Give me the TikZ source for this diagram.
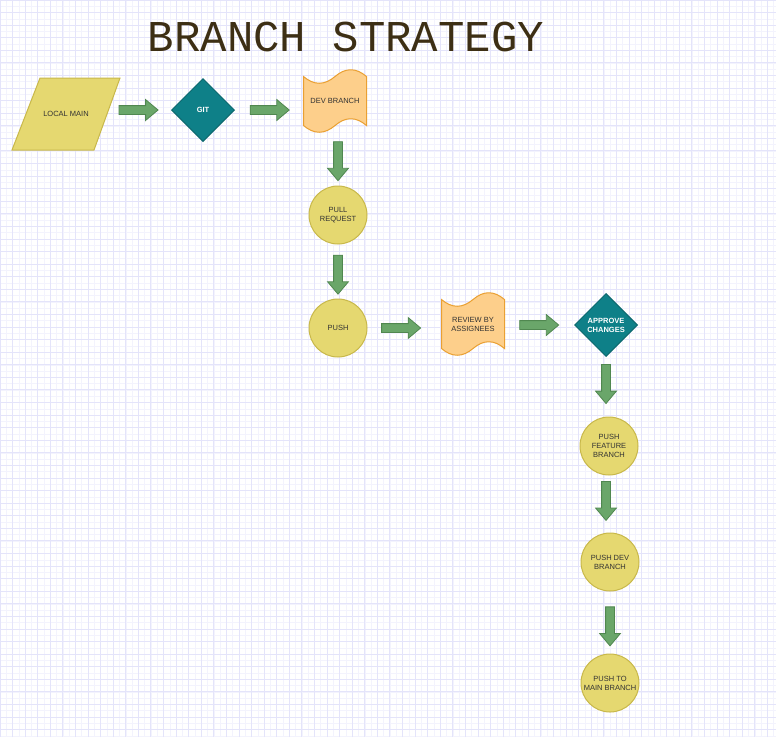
\documentclass[tikz,border=0pt]{standalone}
\usepackage{fontspec}
\setmainfont{Liberation Sans}
\newfontfamily\titlefont{Liberation Mono}
\usetikzlibrary{calc,shapes.geometric,shapes.arrows}

\definecolor{gridmajor}{RGB}{228,228,250}
\definecolor{gridminor}{RGB}{243,243,253}
\definecolor{textgray}{RGB}{51,51,51}
\definecolor{titlebrown}{RGB}{61,47,20}
\definecolor{tealfill}{RGB}{14,128,136}
\definecolor{tealline}{RGB}{12,104,110}
\definecolor{yellowfill}{RGB}{229,216,112}
\definecolor{yellowline}{RGB}{200,184,74}
\definecolor{orangefill}{RGB}{253,207,139}
\definecolor{orangeline}{RGB}{234,160,50}
\definecolor{arrowfill}{RGB}{106,166,106}
\definecolor{arrowline}{RGB}{80,135,80}

\tikzset{
	box/.style={font=\fontsize{7.5}{9}\selectfont, text=textgray, align=center, inner sep=0pt},
	heading/.style={font=\titlefont\fontsize{44}{44}\selectfont, text=titlebrown, inner sep=0pt},
	pgram/.style={draw=yellowline, fill=yellowfill, line width=1pt},
	pgramtext/.style={box, minimum width=82pt, minimum height=72pt},
	roundbox/.style={box, circle, minimum size=58pt, draw=yellowline, fill=yellowfill, line width=1pt},
	decision/.style={box, diamond, minimum width=63pt, minimum height=63pt, draw=tealline, fill=tealfill, line width=1pt, text=white, font=\fontsize{7.5}{9}\selectfont\bfseries},
	tape/.style={draw=orangeline, fill=orangefill, line width=1pt},
	tapetext/.style={box, minimum width=63pt, minimum height=49pt},
	flow/.style={single arrow, minimum height=39pt, inner sep=4pt, single arrow head extend=6pt, single arrow tip angle=80, draw=arrowline, fill=arrowfill, line width=0.8pt, sloped, allow upside down}
}

% tape shaped node: name, centre, text
\def\tapenode(#1)(#2)#3{%
	\begin{scope}[shift={(#2)}]
		\draw[tape] (-31.5,-24.5) .. controls (-21,-15.5) and (-10.5,-15.5) .. (0,-24.5) .. controls (10.5,-33.5) and (21,-33.5) .. (31.5,-24.5) -- (31.5,24.5) .. controls (21,15.5) and (10.5,15.5) .. (0,24.5) .. controls (-10.5,33.5) and (-21,33.5) .. (-31.5,24.5) -- cycle;
	\end{scope}
	\node[tapetext] (#1) at (#2) {#3};}

\begin{document}
\begin{tikzpicture}[x=1pt, y=-1pt]
		%%%%% START %%%%%
		
		\useasboundingbox (0,0) rectangle (776,737);
		\fill[white] (0,0) rectangle (776,737);
		\draw[gridminor, line width=0.6pt, step=6.29pt] (0,737) grid (776,0);
		\draw[gridmajor, line width=1pt, step=12.58pt] (0,737) grid (776,0);
		
		\node[heading] (title) at (346, 36.5) {BRANCH STRATEGY};
		
		\draw[pgram] (12, 150) -- (40, 78) -- (120, 78) -- (94, 150) -- cycle;
		\node[pgramtext] (localmain) at (66, 114) {LOCAL MAIN};
		\node[decision] (git) at (203, 110) {GIT};
		\tapenode(devbranch)(335, 101){DEV BRANCH}
		
		\node[roundbox] (pullreq) at (338, 215) {PULL\\REQUEST};
		\node[roundbox] (push) at (338, 328) {PUSH};
		\tapenode(review)(473, 324){REVIEW BY\\ASSIGNEES}
		\node[decision] (approve) at (606, 325) {APPROVE\\CHANGES};
		
		\node[roundbox] (feature) at (609, 446) {PUSH\\FEATURE\\BRANCH};
		\node[roundbox] (devpush) at (610, 562) {PUSH DEV\\BRANCH};
		\node[roundbox] (mainpush) at (610, 683) {PUSH TO\\MAIN BRANCH};
		
		\path (localmain.east |- git) -- node[flow, pos=0.45] {} (git.west);
		\path (git.east) -- node[flow, pos=0.47] {} (devbranch.west |- git);
		\path (pullreq |- devbranch.south) -- node[flow, pos=0.55] {} (pullreq.north);
		\path (pullreq.south) -- node[flow, pos=0.51] {} (push.north);
		\path (push.east) -- node[flow, pos=0.42] {} (review.west |- push);
		\path (review.east |- approve) -- node[flow, pos=0.46] {} (approve.west);
		\path (approve.south) -- node[flow, pos=0.41] {} (approve.south |- feature.north);
		\path (approve |- feature.south) -- node[flow, pos=0.4] {} (approve |- devpush.north);
		\path (devpush.south) -- node[flow, pos=0.52] {} (mainpush.north);
		
		%%%%% END %%%%%
\end{tikzpicture}
\end{document}
